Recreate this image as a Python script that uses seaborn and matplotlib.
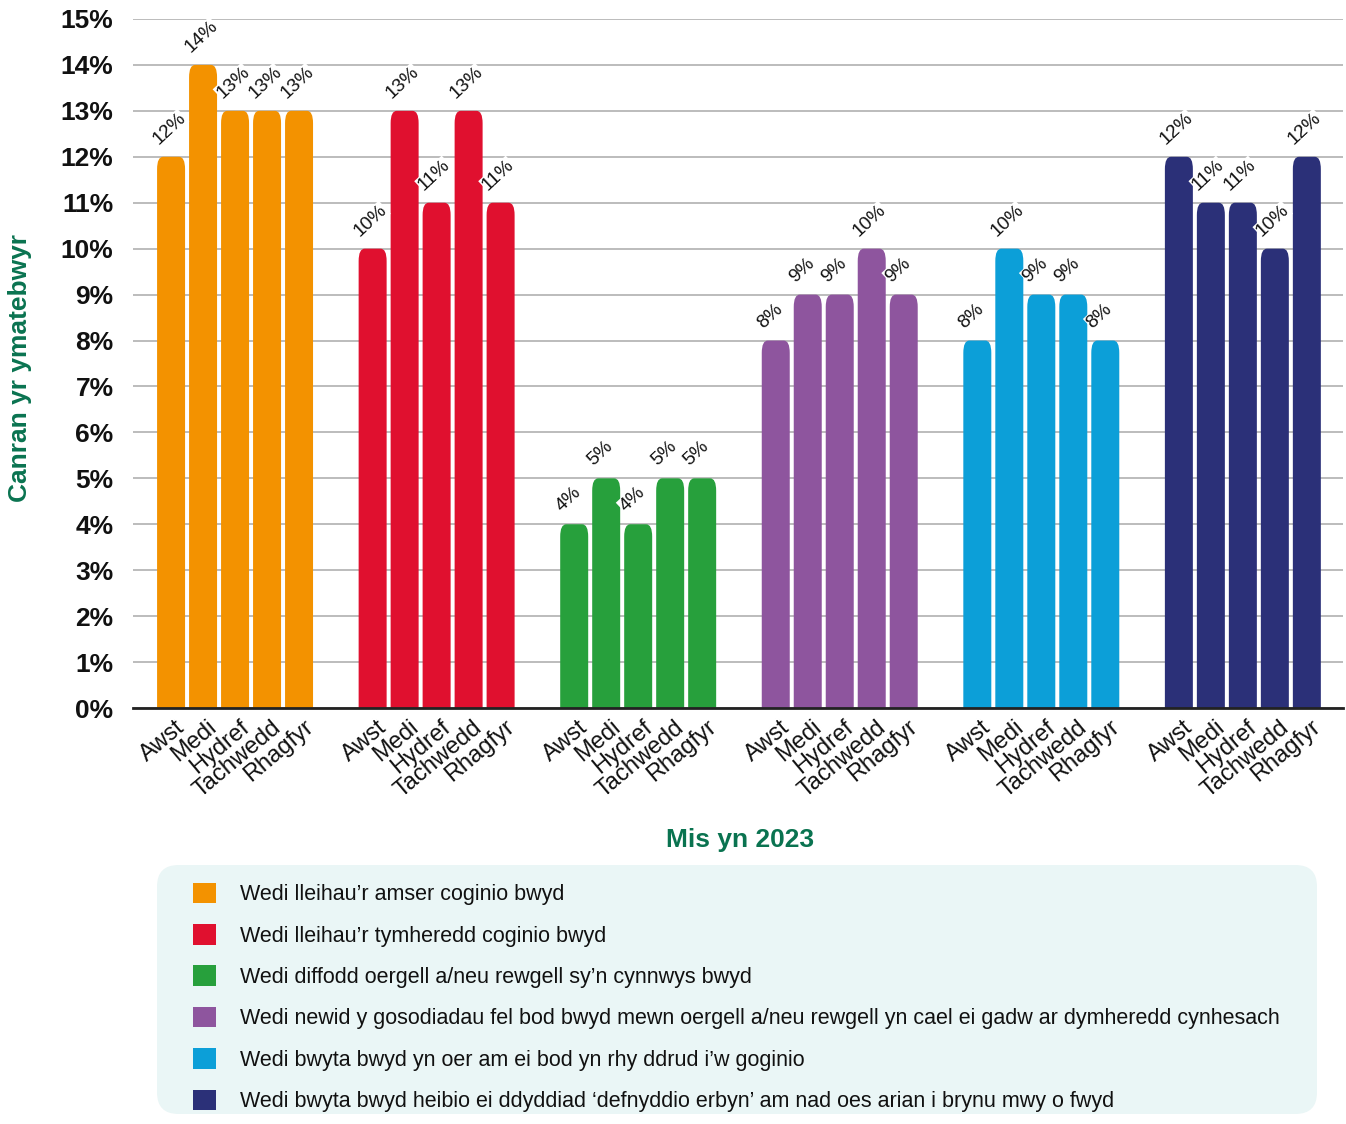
import numpy as np
import pandas as pd
import matplotlib
matplotlib.use("Agg")
import matplotlib.pyplot as plt
import matplotlib.transforms as mtransforms
from matplotlib.patches import FancyBboxPatch, Patch
import seaborn as sns

# ---------------- data ----------------
months = ["Awst", "Medi", "Hydref", "Tachwedd", "Rhagfyr"]
categories = [
    "Wedi lleihau\u2019r amser coginio bwyd",
    "Wedi lleihau\u2019r tymheredd coginio bwyd",
    "Wedi diffodd oergell a/neu rewgell sy\u2019n cynnwys bwyd",
    "Wedi newid y gosodiadau fel bod bwyd mewn oergell a/neu rewgell yn cael ei gadw ar dymheredd cynhesach",
    "Wedi bwyta bwyd yn oer am ei bod yn rhy ddrud i\u2019w goginio",
    "Wedi bwyta bwyd heibio ei ddyddiad \u2018defnyddio erbyn\u2019 am nad oes arian i brynu mwy o fwyd",
]
vals_amser = [12, 14, 13, 13, 13]
vals_tymheredd = [10, 13, 11, 13, 11]
vals_diffodd = [4, 5, 4, 5, 5]
vals_gosodiadau = [8, 9, 9, 10, 9]
vals_oer = [8, 10, 9, 9, 8]
vals_dyddiad = [12, 11, 11, 10, 12]
y_ticks = list(range(0, 16))

colors = ["#F39200", "#E0102F", "#27A03C", "#8E559E", "#0C9FD8", "#2B3078"]
green_txt = "#0A7350"

series = [vals_amser, vals_tymheredd, vals_diffodd, vals_gosodiadau, vals_oer, vals_dyddiad]
group_step = 6.3
rows = []
for g, (cat, vals) in enumerate(zip(categories, series)):
    for i, (m, v) in enumerate(zip(months, vals)):
        rows.append({"pos": g * group_step + i, "month": m, "cat": cat, "val": v})
df = pd.DataFrame(rows)

# ---------------- figure ----------------
sns.set_theme(style="white")
plt.rcParams["font.family"] = ["Liberation Sans", "DejaVu Sans"]

W, H = 1346, 1124
fig = plt.figure(figsize=(W / 100, H / 100), dpi=100)
ax = fig.add_axes([133 / W, 1 - 708 / H, 1210 / W, 689 / H])

sns.barplot(data=df, x="pos", y="val", hue="cat", palette=colors, hue_order=categories,
            native_scale=True, dodge=False, width=0.875, ax=ax, legend=False,
            saturation=1, linewidth=0, zorder=3)

ax.set_xlim(-1.19, df["pos"].max() + 1.13)
ax.set_ylim(0, 15)

# rounded tops
xunit_px = 1210 / (ax.get_xlim()[1] - ax.get_xlim()[0])
yunit_px = 689 / 15
aspect = xunit_px / yunit_px
rad = 6 / xunit_px
px2pt = 72 / 100
for p in list(ax.patches):
    x0, y0, w, h = p.get_x(), p.get_y(), p.get_width(), p.get_height()
    if h <= 0:
        continue
    fc = p.get_facecolor()
    p.set_visible(False)
    rp = FancyBboxPatch((x0, -0.5), w, h + 0.5,
                        boxstyle=f"round,pad=0,rounding_size={rad}",
                        mutation_aspect=1 / aspect, facecolor=fc, edgecolor="none",
                        zorder=3, clip_on=True)
    ax.add_patch(rp)
    ax.annotate(f"{int(round(h))}%", xy=(x0 + w / 2, h),
                xytext=(-13 * px2pt, 12 * px2pt),
                textcoords="offset points", rotation=43, rotation_mode="anchor",
                ha="left", va="baseline", fontsize=13.8, color="#111111", zorder=5,
                bbox=dict(facecolor="white", edgecolor="none", pad=0.3))

# grid & axes
ax.set_yticks(y_ticks)
ax.set_yticklabels([f"{t}%" for t in y_ticks], fontsize=19, fontweight="bold", color="#111111")
ax.yaxis.grid(True, color="#AAAAAA", linewidth=1.1, zorder=0)
ax.set_axisbelow(True)
for s in ["left", "right", "top"]:
    ax.spines[s].set_visible(False)
ax.spines["bottom"].set_color("#222222")
ax.spines["bottom"].set_linewidth(2)
ax.spines["bottom"].set_zorder(6)
ax.tick_params(axis="y", length=0, pad=14)
ax.tick_params(axis="x", length=0, pad=6)

ax.set_xticks(df["pos"].tolist())
ax.set_xticklabels(df["month"].tolist(), rotation=40, ha="right", va="top",
                   rotation_mode="anchor", fontsize=17, color="#111111")
offset = mtransforms.ScaledTranslation(4 / 100, 0, fig.dpi_scale_trans)
for lbl in ax.get_xticklabels():
    lbl.set_transform(lbl.get_transform() + offset)

ax.set_ylabel("Canran yr ymatebwyr", fontsize=19, fontweight="bold", color=green_txt)
ax.yaxis.set_label_coords((32 - 133) / 1210, (708 - 368) / 689)
ax.set_xlabel("Mis yn 2023", fontsize=19, fontweight="bold", color=green_txt)
ax.xaxis.set_label_coords((740 - 133) / 1210, (708 - 828) / 689)

# legend box
box = FancyBboxPatch((157 / W, 1 - 1114 / H), (1317 - 157) / W, (1114 - 865) / H,
                     boxstyle="round,pad=0,rounding_size=0.016",
                     mutation_aspect=W / H,
                     transform=fig.transFigure, facecolor="#EAF6F6", edgecolor="none", zorder=0)
fig.patches.append(box)

handles = [Patch(facecolor=c, edgecolor="none") for c in colors]
leg = fig.legend(handles, categories, loc="upper left",
                 bbox_to_anchor=(184 / W, 1 - 874 / H), frameon=False,
                 fontsize=15.5, handlelength=1.1, handleheight=1.1,
                 handletextpad=1.1, labelspacing=0.87, borderaxespad=0)
for t in leg.get_texts():
    t.set_color("#111111")

fig.savefig("out.png", dpi=100)
